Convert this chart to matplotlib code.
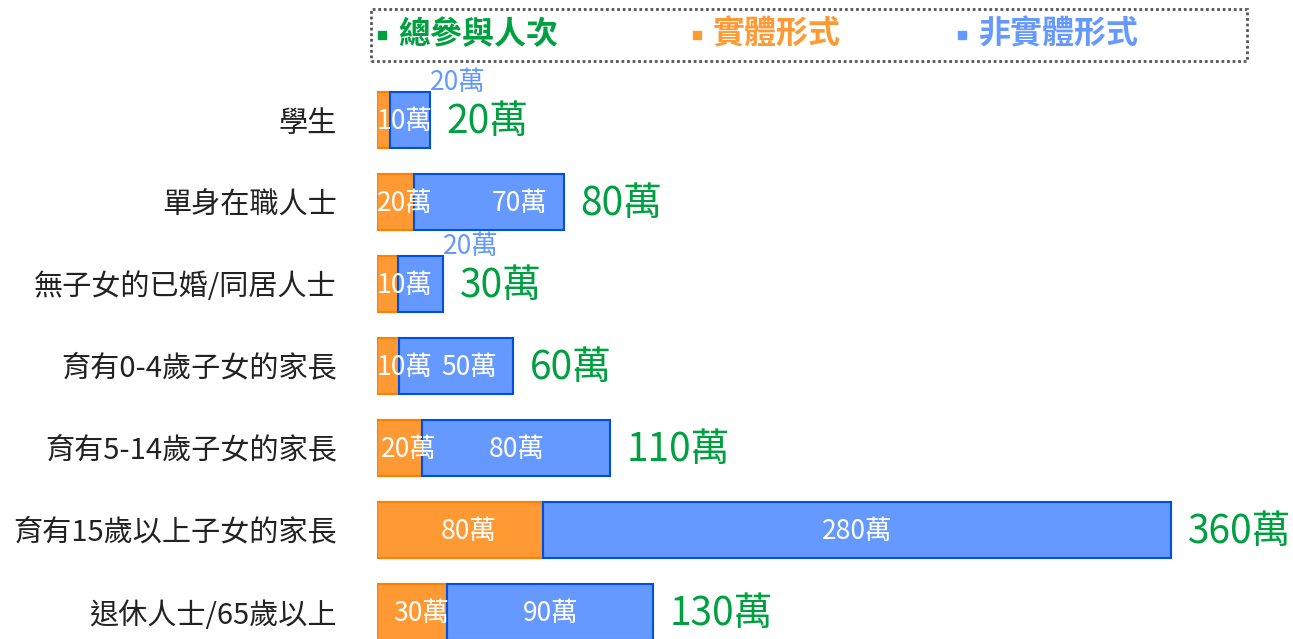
import matplotlib.pyplot as plt
from matplotlib.patches import Rectangle
from matplotlib.lines import Line2D

plt.rcParams['font.family'] = ['Noto Sans CJK TC', 'DejaVu Sans']

# data (萬人次)
categories = ['學生', '單身在職人士', '無子女的已婚/同居人士', '育有0-4歲子女的家長',
              '育有5-14歲子女的家長', '育有15歲以上子女的家長', '退休人士/65歲以上']
physical = [6, 17, 9.5, 10, 20.5, 75.5, 32]
non_physical = [18, 68, 20.5, 52, 85.5, 285.5, 93.5]
physical_labels = ['10萬', '20萬', '10萬', '10萬', '20萬', '80萬', '30萬']
non_physical_labels = ['20萬', '70萬', '20萬', '50萬', '80萬', '280萬', '90萬']
total_labels = ['20萬', '80萬', '30萬', '60萬', '110萬', '360萬', '130萬']

orange = '#ff9933'
orange_edge = '#ff8000'
blue = '#6699ff'
blue_edge = '#0050e0'
green = '#00a040'

fig = plt.figure(figsize=(12.93, 6.39), dpi=100)
ax = fig.add_axes([377 / 1293, 0, 1 - 377 / 1293, 569 / 639])

y = list(range(len(categories)))
ax.barh(y, physical, height=0.68, color=orange, edgecolor=orange_edge, linewidth=1.5)
ax.barh(y, non_physical, left=physical, height=0.68, color=blue, edgecolor=blue_edge, linewidth=1.5)

for i in y:
    o = physical[i]
    b = non_physical[i]
    # physical label, kept inside the left part of the bar
    ax.text(max(o / 2 + 4, 12.7), i + 0.02, physical_labels[i], color='white', fontsize=19,
            ha='center', va='center')
    if b < 25:
        # too narrow: label goes above the bar
        ax.text(o + b, i - 0.29, non_physical_labels[i], color=blue, fontsize=19,
                ha='left', va='bottom')
    else:
        xpos = o + b / 2 if b > 80 else max(o + b / 2, o + b - 20)
        ax.text(xpos, i + 0.02, non_physical_labels[i], color='white',
                fontsize=19, ha='center', va='center')
    ax.text(o + b + 7.5, i + 0.02, total_labels[i], color=green, fontsize=28,
            ha='left', va='center')

ax.set_xlim(0, (1293 - 377) / 2.2)
ax.set_ylim(6 + 27 / 82, -50 / 82)
ax.set_yticks(y)
ax.set_yticklabels(categories, fontsize=21, color='#222222')
ax.tick_params(axis='y', length=0, pad=29)
ax.set_xticks([])
for s in ax.spines.values():
    s.set_visible(False)

# legend box
fig.add_artist(Rectangle((371 / 1293, 1 - 61 / 639), (1247 - 371) / 1293, 52 / 639,
                         transform=fig.transFigure, fill=False, edgecolor='#555555',
                         linestyle=(0, (1, 1)), linewidth=2))
legend_items = [('總參與人次', green, 382), ('實體形式', orange, 697), ('非實體形式', blue, 962)]
for name, col, px in legend_items:
    fig.add_artist(Line2D([px / 1293], [1 - 35 / 639], marker='s', markersize=6,
                          color=col, linestyle='none', transform=fig.transFigure))
    fig.text((px + 16) / 1293, 1 - 35 / 639, name, color=col, fontsize=23,
             fontweight='bold', ha='left', va='center')

fig.savefig('out.png', dpi=100)
